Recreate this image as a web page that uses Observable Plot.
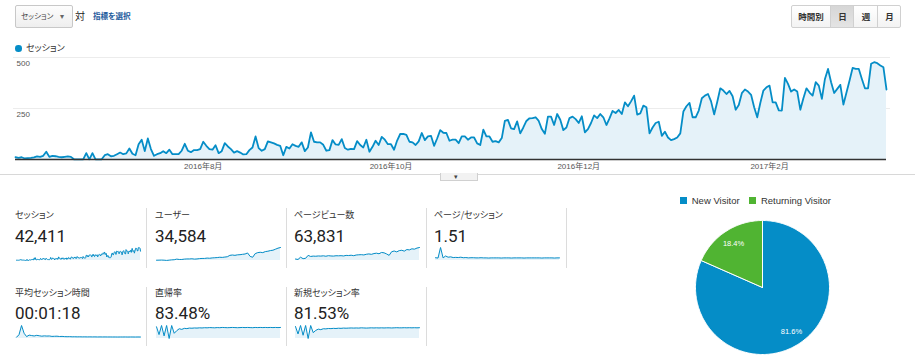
<!DOCTYPE html>
<html><head><meta charset="utf-8">
<script src="https://cdn.jsdelivr.net/npm/d3@7"></script>
<script src="https://cdn.jsdelivr.net/npm/@observablehq/plot@0.6"></script>
<style>
html,body{margin:0;padding:0;background:#fff;}
body{width:915px;height:359px;overflow:hidden;position:relative;font-family:"Noto Sans CJK JP",Arial,sans-serif;}
.a{position:absolute;white-space:nowrap;}
.jp{font-family:"Noto Sans CJK JP",sans-serif;font-feature-settings:"palt";}
.lbl{font-size:9px;line-height:12px;color:#333;}
.val{font-family:Roboto,Arial,sans-serif;font-size:17px;line-height:20px;color:#222;}
.div{width:1px;background:#dcdcdc;}
.btn{position:absolute;top:0;height:21px;line-height:21px;text-align:center;font-size:8.5px;font-weight:bold;color:#333;border-left:1px solid #d0d0d0;}
</style></head><body>
<script>
// ---------- data ----------
const startDate = "2016-06-01";
const sessions = [
11,8,11,5,7,8,10,15,13,18,38,13,18,16,13,11,13,15,13,1,1,1,1,31,1,31,1,1,1,21,26,16,18,26,34,26,30,54,28,21,75,97,41,103,51,18,26,31,41,31,48,26,26,26,43,77,43,36,46,46,51,87,67,51,48,70,31,41,80,64,51,
34,41,34,25,26,46,59,113,56,43,51,89,84,79,72,67,21,62,54,75,67,62,84,41,59,133,87,84,84,72,43,46,95,74,72,100,56,48,52,51,90,71,59,97,38,62,92,71,111,97,75,75,48,93,125,126,121,87,84,71,89,130,95,113,116,67,103,144,131,130,
92,97,97,80,113,113,97,108,108,79,71,146,113,113,87,90,84,105,189,194,153,149,187,128,157,189,202,203,207,189,149,126,210,210,169,223,195,144,157,203,210,198,179,212,133,149,179,216,203,223,207,169,202,238,228,243,223,280,261,285,313,220,226,264,256,128,157,179,185,116,136,
108,95,100,108,128,235,261,277,207,207,240,300,313,321,285,221,282,349,338,321,336,310,244,267,325,343,333,317,256,207,277,338,354,362,280,280,241,240,400,371,333,343,333,244,300,349,328,313,379,362,297,395,444,379,326,346,366,269,328,387,449,444,444,395,349,349,469,477,472,461,452,343
];
const yTicks = [250, 500];
const monthTickDates = ["2016-08-01","2016-10-01","2016-12-01","2017-02-01"];
const monthTickLabels = ["2016年8月","2016年10月","2016年12月","2017年2月"];

const metricLabels = ["セッション","ユーザー","ページビュー数","ページ/セッション","平均セッション時間","直帰率","新規セッション率"];
const metricValues = ["42,411","34,584","63,831","1.51","00:01:18","83.48%","81.53%"];

// sparkline series
const usersSpark = [8,10,12,9,2,10,18,22,40,30,30,40,45,45,50,40,45,55,60,60,70,65,75,80,85,95,90,100,110,150,160,150,165,170,180,190,220,120,95,200,230,240,230,260,270,290,300,330,360,380];
const pageviewsSpark = [20,14,45,25,30,70,55,60,58,62,60,64,58,66,62,60,65,64,66,62,70,68,72,66,75,78,80,76,85,90,84,95,100,92,110,105,90,70,120,130,118,135,140,128,150,145,160,155,170,178];
const pagesPerSessionSpark = [1.6,1.4,7.5,1.5,2.6,1.9,2.1,1.7,1.8,1.7,1.9,1.6,1.7,1.5,1.6,1.6,1.5,1.5,1.6,1.5,1.5,1.4,1.5,1.5,1.5,1.5,1.4,1.5,1.5,1.5,1.4,1.5,1.5,1.5,1.5,1.4,1.5,1.5,1.5,1.5,1.5,1.5,1.4,1.5,1.5,1.5,1.5,1.4,1.5,1.5];
const avgTimeSpark = [60,180,620,250,90,160,140,120,150,130,110,125,115,120,100,105,110,95,100,90,85,88,80,82,78,80,76,78,75,77,74,76,72,75,73,74,72,73,71,72,70,72,71,73,70,72,71,70,72,70];
const bounceSpark = [90,30,100,20,100,0,100,40,60,75,70,78,76,80,79,81,80,82,81,83,82,84,83,82,84,83,85,84,83,84,85,84,83,84,85,84,85,84,83,85,84,85,84,85,84,85,84,85,84,85];
const newSessionSpark = [92,35,100,25,100,0,100,45,62,72,68,75,74,77,76,78,77,79,78,80,79,80,81,80,81,80,82,81,80,81,82,81,82,81,82,81,82,82,81,82,83,82,82,83,82,83,82,83,82,83];

const visitorTypes = ["New Visitor","Returning Visitor"];
const visitorShares = [81.6, 18.4];
const visitorColors = ["#058dc7","#50b432"];

// ---------- helpers ----------
const BLUE = "#058dc7", FILL = "#e5f2f9";
function place(el, left, top){ el.style.position="absolute"; el.style.left=left+"px"; el.style.top=top+"px"; document.body.appendChild(el); return el; }
function div(cls, html, left, top, extra){ const d=document.createElement("div"); d.className="a "+cls; d.innerHTML=html; if(extra) Object.assign(d.style, extra); return place(d,left,top); }

// ---------- top controls ----------
div("jp", "", 15, 5, {width:"56px",height:"21px",border:"1px solid #c8c8c8",borderRadius:"2px",background:"linear-gradient(#fdfdfd,#eeeeee)"});
div("jp", metricLabels[0], 21, 10, {fontSize:"7.5px",lineHeight:"12px",color:"#444"});
div("", "▾", 60, 10, {fontSize:"8px",lineHeight:"12px",color:"#666"});
div("jp", "対", 75, 9, {fontSize:"10px",lineHeight:"14px",color:"#222"});
div("jp", "指標を選択", 93, 10, {fontSize:"7.6px",lineHeight:"12px",color:"#1d5a9c",fontWeight:"bold"});

const grp = div("jp", "", 791, 5, {width:"108px",height:"21px",border:"1px solid #d0d0d0",borderRadius:"2px",background:"linear-gradient(#ffffff,#f3f3f3)"});
const btns = [["時間別",0,38],["日",38,23],["週",61,24],["月",85,23]];
btns.forEach(([t,l,w],i)=>{ const b=document.createElement("div"); b.className="btn jp"; b.textContent=t; Object.assign(b.style,{left:l+"px",width:w+"px"}); if(i===0) b.style.borderLeft="none"; if(i===1){b.style.background="linear-gradient(#d6d6d6,#e4e4e4)";} grp.appendChild(b); });

// legend of main chart
div("", "", 15, 45, {width:"6.5px",height:"6.5px",borderRadius:"50%",background:BLUE});
div("jp", metricLabels[0], 26, 42, {fontSize:"9px",lineHeight:"12px",color:"#333"});

// ---------- main chart ----------
const t0 = new Date(startDate + "T00:00:00Z");
const series = sessions.map((v,i)=>({date: d3.utcDay.offset(t0, i), value: v}));
const tickDates = monthTickDates.map(d=>new Date(d + "T00:00:00Z"));
const tickLabelOf = new Map(tickDates.map((d,i)=>[+d, monthTickLabels[i]]));
const main = Plot.plot({
  width: 915, height: 125,
  marginLeft: 15, marginRight: 29, marginTop: 7, marginBottom: 16,
  x: {type:"utc", domain:[series[0].date, series[series.length-1].date], label:null},
  y: {domain:[0,500], label:null},
  style: {background:"transparent", fontFamily:"Arial, 'Noto Sans CJK JP', sans-serif", fontSize:"8px", color:"#555", overflow:"visible"},
  marks: [
    Plot.ruleY(yTicks, {stroke:"#ececec", strokeWidth:1, insetLeft:-2, insetRight:-4}),
    Plot.areaY(series, {x:"date", y:"value", fill:FILL}),
    Plot.lineY(series, {x:"date", y:"value", stroke:BLUE, strokeWidth:1.8}),
    Plot.ruleY([0], {stroke:"#333", strokeWidth:1.4}),
    Plot.axisY(yTicks, {anchor:"left", label:null, tickSize:0, tickPadding:-1, textAnchor:"start", dy:6, fill:"#555"}),
    Plot.axisX(tickDates, {anchor:"bottom", label:null, tickSize:0, tickPadding:4, tickFormat: d=>tickLabelOf.get(+d), fill:"#555"})
  ]
});
place(main, 0, 50);

// strip under chart with small tab
div("", "", 0, 174, {width:"440px",height:"1px",background:"#d8d8d8"});
div("", "", 477, 174, {width:"438px",height:"1px",background:"#d8d8d8"});
div("", "", 440, 173, {width:"36px",height:"7px",border:"1px solid #d0d0d0",borderTop:"none",background:"#f2f2f2"});
div("", "▾", 454, 172, {fontSize:"7px",lineHeight:"8px",color:"#444"});

// ---------- scorecards ----------
const colX = [15,155,294,434];
const rowY = [209,287];
const sparkData = [sessions, usersSpark, pageviewsSpark, pagesPerSessionSpark, avgTimeSpark, bounceSpark, newSessionSpark];
const sparkMax = [d3.max(sessions), d3.max(usersSpark), d3.max(pageviewsSpark), d3.max(pagesPerSessionSpark), d3.max(avgTimeSpark), 100, 100];
function spark(values, ymax){
  const data = values.map((v,i)=>({i, v}));
  return Plot.plot({
    width:124, height:14, margin:0, marginTop:1,
    x:{axis:null, domain:[0, values.length-1]}, y:{axis:null, domain:[0, ymax]},
    style:{background:"transparent", overflow:"visible"},
    marks:[Plot.areaY(data,{x:"i",y:"v",fill:FILL}), Plot.lineY(data,{x:"i",y:"v",stroke:BLUE,strokeWidth:1})]
  });
}
metricLabels.forEach((lab,k)=>{
  const r = k<4 ? 0 : 1, c = k<4 ? k : k-4;
  const x = colX[c], y = rowY[r];
  div("jp lbl", lab, x, y);
  div("val", metricValues[k], x, y+17 + (r===1? -1:0));
  place(spark(sparkData[k], sparkMax[k]), x+1, y+37);
});
[146,286,426,566].forEach(x=>div("div","",x,208,{height:"60px"}));
[146,286,426].forEach(x=>div("div","",x,287,{height:"59px"}));

// ---------- pie ----------
const legend = Plot.legend({color:{type:"ordinal", domain:visitorTypes, range:visitorColors}, swatchSize:7, swatchWidth:7, swatchHeight:7,
  style:{fontFamily:"Arial, sans-serif", fontSize:"9.5px", color:"#333", background:"transparent"}});
place(legend, 680, 184);

const R = 67;
let acc = 0;
const pieRows = [], pieText = [];
visitorShares.forEach((s,i)=>{
  const a0 = acc/100*2*Math.PI; acc += s; const a1 = acc/100*2*Math.PI;
  const n = Math.max(2, Math.ceil((a1-a0)/0.02));
  pieRows.push({k:i, x:0, y:0});
  for(let j=0;j<=n;j++){ const a=a0+(a1-a0)*j/n; pieRows.push({k:i, x:R*Math.sin(a), y:R*Math.cos(a)}); }
  pieRows.push({k:i, x:0, y:0});
  const am=(a0+a1)/2;
  pieText.push({x:0.79*R*Math.sin(am), y:0.79*R*Math.cos(am), t:s.toFixed(1)+"%"});
});
const pie = Plot.plot({
  width:150, height:150, margin:0,
  x:{axis:null, domain:[-75,75]}, y:{axis:null, domain:[-75,75]},
  style:{background:"transparent", overflow:"visible"},
  marks:[
    ...visitorShares.map((s,i)=>Plot.line(pieRows.filter(d=>d.k===i), {x:"x", y:"y", fill:visitorColors[i], stroke:"#fff", strokeWidth:1, curve:"linear"})),
    Plot.text(pieText, {x:"x", y:"y", text:"t", fill:"#fff", fontSize:7.5, fontFamily:"Arial, sans-serif"})
  ]
});
place(pie, 687, 212);
</script>
</body></html>
